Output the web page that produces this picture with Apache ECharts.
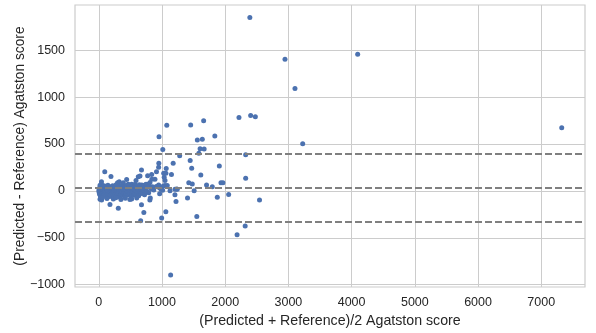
<!DOCTYPE html>
<html>
<head>
<meta charset="utf-8">
<script src="https://cdn.jsdelivr.net/npm/echarts@6/dist/echarts.min.js"></script>
<style>
  html, body { margin: 0; padding: 0; background: #fff; }
  #bland-altman { width: 596px; height: 333px; }
</style>
</head>
<body>
<div id="bland-altman"></div>
<script>
// x = (predicted + reference)/2, y = predicted - reference
var meanScores = [
    2390, 2946, 3104, 4096, 7324, 3226, 2218, 2403, 2477, 2324, 2324, 2543, 2316, 2188, 1137,
    1076, 953, 1454, 1659, 1836, 1559, 1638, 1603, 1667, 1583, 1013, 1280, 1446, 1470, 1907,
    1614, 1177, 1067, 950, 947, 913, 1150, 1027, 1062, 1035, 837, 773, 789, 889, 676,
    1048, 1424, 1479, 1705, 1796, 1933, 1964, 1509, 1404, 1875, 2055, 1551, 1205, 1222, 1127,
    1232, 1061, 995, 963, 713, 676, 663, 808, 815, 492, 309, 177, 95, 193, 441,
    43, 45, 960, 910, 1021, 1048, 1084, 984, 1206, 1242, 1010, 947, 704, 589, 625,
    652, 324, 297, 388, 467, 520, 573, 679, 731, 783, 840,
    2, 5, 8, 10, 12, 15, 18, 20, 22, 25, 28, 30, 33, 35, 38, 40, 42, 45, 48, 50,
    52, 55, 58, 60, 63, 66, 70, 72, 75, 78, 80, 83, 86, 90, 93, 96, 100, 104, 108, 112,
    116, 120, 124, 128, 132, 136, 140, 145, 150, 155, 160, 165, 170, 175, 180, 185, 190, 195, 200, 205,
    210, 215, 220, 226, 232, 238, 244, 250, 256, 262, 268, 274, 280, 286, 292, 298, 304, 310, 316, 322,
    328, 334, 340, 346, 352, 358, 364, 370, 376, 382, 388, 394, 400, 407, 414, 421, 428, 435, 442, 449,
    456, 463, 470, 477, 484, 491, 498, 505, 512, 519, 526, 533, 540, 548, 556, 564, 572, 580, 588, 596,
    605, 614, 623, 632, 641, 650, 660, 670, 680, 690, 700, 712, 724, 736, 748, 760, 775, 790, 810, 830,
    850, 870, 30, 20, 60, 130, 230, 270, 350, 420, 520, 600
];
var diffScores = [
    1848, 1404, 1092, 1457, 673, 503, 782, 805, 790, 386, 135, -96, -374, -468, -897,
    699, 578, 702, 748, 585, 543, 550, 450, 448, 401, 443, 376, 324, 243, 266,
    171, 294, 240, 294, 252, 204, 174, 188, 188, 146, 176, 161, 67, 124, 222,
    110, 86, 74, 63, 44, 88, 87, 2, -74, -67, -39, -273, -41, -113, 2,
    20, -221, -288, -30, -230, -147, -318, -96, -76, -92, -184, -145, 205, 154, 122,
    99, -96, 35, 46, 53, 57, 57, 18, 18, 18, 7, 64, -25, 110, 152,
    160, 99, 88, 88, 71, 71, 71, 64, 64, 71, 124,
    5, -12, 20, -30, 8, 35, -5, 60, -45, 15, -20, 40, 0, -60, 25, -8, 70, 10, -35, 30,
    -15, 5, 45, -25, 18, -50, 0, 28, -10, 55, -40, 12, -22, 35, -5, 20, -30, 8, 50, -18,
    25, -55, 3, 40, -12, 15, -38, 60, -5, 22, -25, 48, 0, -60, 30, -15, 10, -42, 38, -8,
    18, -28, 55, -2, 28, -50, 12, -20, 42, -35, 5, 65, -12, 25, -45, 8, 35, -22, 50, -5,
    20, -65, 40, -15, 10, -35, 58, 0, 25, -48, 15, -20, 45, -8, 30, -55, 12, -25, 60, 2,
    28, -40, 18, -12, 50, -30, 5, 35, -60, 22, -18, 48, -2, 30, -45, 15, -25, 55, 8, -35,
    40, -10, 20, -50, 65, 0, 32, -28, 45, -15, 12, 55, -40, 25, 70, -5, 38, -20, 90, 20,
    45, 10, -75, -88, -70, -80, -85, -72, -90, -78, -85, -75
];
var meanDiff = 37;
var upperLoA = 401;
var lowerLoA = -327;
var xTicks = [0, 1000, 2000, 3000, 4000, 5000, 6000, 7000];
var yTicks = [-1000, -500, 0, 500, 1000, 1500];

var points = [];
for (var i = 0; i < meanScores.length; i++) {
    points.push([meanScores[i], diffScores[i]]);
}

var minusFmt = function (v) {
    return String(v).replace('-', '\u2212');
};

var chart = echarts.init(document.getElementById('bland-altman'), null, {renderer: 'canvas'});
var textColor = '#262626';
var gridColor = '#cccccc';
var option = {
    backgroundColor: '#ffffff',
    animation: false,
    textStyle: {fontFamily: 'Liberation Sans, Arial, sans-serif'},
    grid: {
        left: 75, right: 11, top: 5, bottom: 46,
        outerBoundsMode: 'none',
        show: true, borderColor: gridColor, borderWidth: 1.2, backgroundColor: '#ffffff'
    },
    xAxis: {
        type: 'value',
        min: -376,
        max: 7692,
        name: '(Predicted + Reference)/2 Agatston score',
        nameLocation: 'middle',
        nameGap: 27,
        nameMoveOverlap: false,
        nameTextStyle: {color: textColor, fontSize: 14.2},
        axisLine: {show: false},
        axisTick: {show: false, customValues: xTicks},
        axisLabel: {customValues: xTicks, color: textColor, fontSize: 12.5, margin: 9, formatter: minusFmt},
        splitLine: {show: true, lineStyle: {color: gridColor, width: 1}}
    },
    yAxis: {
        type: 'value',
        min: -1024,
        max: 1982,
        name: '(Predicted - Reference) Agatston score',
        nameLocation: 'middle',
        nameGap: 48,
        nameMoveOverlap: false,
        nameTextStyle: {color: textColor, fontSize: 13.8},
        axisLine: {show: false},
        axisTick: {show: false, customValues: yTicks},
        axisLabel: {customValues: yTicks, color: textColor, fontSize: 12.5, margin: 10, formatter: minusFmt},
        splitLine: {show: true, lineStyle: {color: gridColor, width: 1}}
    },
    series: [{
        type: 'scatter',
        data: points,
        symbolSize: 5,
        itemStyle: {color: '#4c72b0', opacity: 1},
        markLine: {
            silent: true,
            symbol: 'none',
            label: {show: false},
            lineStyle: {color: '#808080', width: 2, type: [7, 3]},
            data: [{yAxis: upperLoA}, {yAxis: meanDiff}, {yAxis: lowerLoA}]
        }
    }]
};
chart.setOption(option);
</script>
</body>
</html>
